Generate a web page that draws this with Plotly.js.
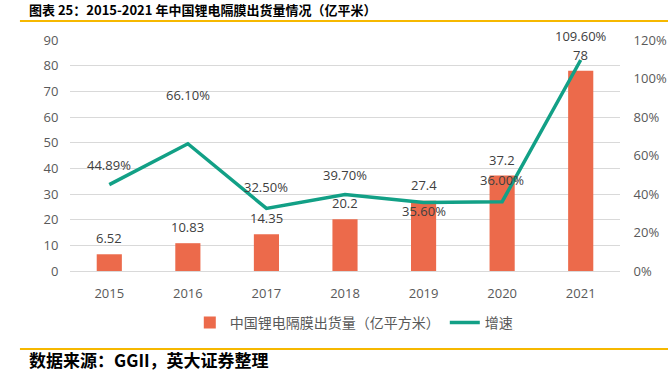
<!DOCTYPE html>
<html>
<head>
<meta charset="utf-8">
<script src="https://cdn.plot.ly/plotly-3.0.1.min.js"></script>
<style>html,body{margin:0;padding:0;background:#fff;}#chart{width:668px;height:371px;}</style>
</head>
<body>
<div id="chart"></div>
<script>
const years = ['2015', '2016', '2017', '2018', '2019', '2020', '2021'];
const shipments = [6.52, 10.83, 14.35, 20.2, 27.4, 37.2, 78];
const shipmentLabels = ['6.52', '10.83', '14.35', '20.2', '27.4', '37.2', '78'];
const growth = [44.89, 66.10, 32.50, 39.70, 35.60, 36.00, 109.60];
const growthLabels = ['44.89%', '66.10%', '32.50%', '39.70%', '35.60%', '36.00%', '109.60%'];
const barName = '中国锂电隔膜出货量（亿平方米）';
const lineName = '增速';
const titleText = '图表 25：2015-2021 年中国锂电隔膜出货量情况（亿平米）';
const sourceText = '数据来源：GGII，英大证券整理';

const txtFont = 'Open Sans, Noto Sans CJK SC, sans-serif';
const cjkFont = 'Noto Sans CJK SC, sans-serif';
const gold = '#F6B800';

const traces = [
  {
    type: 'bar', x: years, y: shipments, name: barName,
    marker: {color: '#EC6A4B'}, hoverinfo: 'x+y'
  },
  {
    type: 'scatter', mode: 'lines', x: years, y: growth, yaxis: 'y2', name: lineName,
    line: {color: '#12A086', width: 3.5}, hoverinfo: 'x+y'
  }
];

// label offsets (pixels above the mark centre)
const lineShift = [20, 49, 21, 20, -9, 22, 24];
const annotations = [];
years.forEach((yr, i) => {
  annotations.push({
    x: i, y: shipments[i], xref: 'x', yref: 'y', text: shipmentLabels[i],
    showarrow: false, yanchor: 'middle', yshift: 16,
    font: {family: txtFont, size: 13, color: '#404040'}
  });
  annotations.push({
    x: i, y: growth[i], xref: 'x', yref: 'y2', text: growthLabels[i],
    showarrow: false, yanchor: 'middle', yshift: lineShift[i],
    font: {family: txtFont, size: 13, color: '#404040'}
  });
});
annotations.push({
  xref: 'paper', yref: 'paper', x: -0.078, y: 1.134, xanchor: 'left', yanchor: 'middle',
  text: '<b>' + titleText + '</b>', showarrow: false,
  font: {family: cjkFont, size: 13, color: '#000000'}
});
annotations.push({
  xref: 'paper', yref: 'paper', x: -0.078, y: -0.385, xanchor: 'left', yanchor: 'middle',
  text: '<b>' + sourceText + '</b>', showarrow: false,
  font: {family: cjkFont, size: 17, color: '#000000'}
});

const layout = {
  width: 668, height: 371,
  margin: {l: 70, r: 48, t: 40, b: 100, pad: 0},
  paper_bgcolor: '#ffffff', plot_bgcolor: '#ffffff',
  bargap: 0.68,
  showlegend: true,
  legend: {
    orientation: 'h', x: 0.516, xanchor: 'center', y: -0.225, yanchor: 'middle',
    font: {family: cjkFont, size: 14, color: '#595959'}, bgcolor: 'rgba(0,0,0,0)'
  },
  xaxis: {
    type: 'category', range: [-0.5, years.length - 0.5], autorange: false,
    showgrid: false, showline: true, linecolor: '#D9D9D9', linewidth: 1,
    ticks: 'outside', ticklen: 10, tickcolor: 'rgba(0,0,0,0)',
    tickfont: {family: txtFont, size: 13, color: '#595959'}, fixedrange: true
  },
  yaxis: {
    range: [0, 90], autorange: false, dtick: 10, tick0: 0, showgrid: true, gridcolor: '#D9D9D9', gridwidth: 1,
    zeroline: false, showline: false, ticks: 'outside', ticklen: 8, tickcolor: 'rgba(0,0,0,0)',
    tickfont: {family: txtFont, size: 13, color: '#595959'}, fixedrange: true
  },
  yaxis2: {
    overlaying: 'y', side: 'right', range: [0, 120], autorange: false, dtick: 20, tick0: 0, ticksuffix: '%',
    showgrid: false, zeroline: false, showline: false, ticks: 'outside', ticklen: 10,
    tickcolor: 'rgba(0,0,0,0)', tickfont: {family: txtFont, size: 13, color: '#595959'}, fixedrange: true
  },
  shapes: [
    {type: 'line', xref: 'paper', yref: 'paper', x0: -0.091, x1: 1.09, y0: 1.082, y1: 1.082,
     line: {color: gold, width: 2}},
    {type: 'line', xref: 'paper', yref: 'paper', x0: -0.091, x1: 1.09, y0: -0.338, y1: -0.338,
     line: {color: gold, width: 2}}
  ],
  annotations: annotations
};

Plotly.newPlot('chart', traces, layout, {displayModeBar: false, staticPlot: true});
</script>
</body>
</html>
